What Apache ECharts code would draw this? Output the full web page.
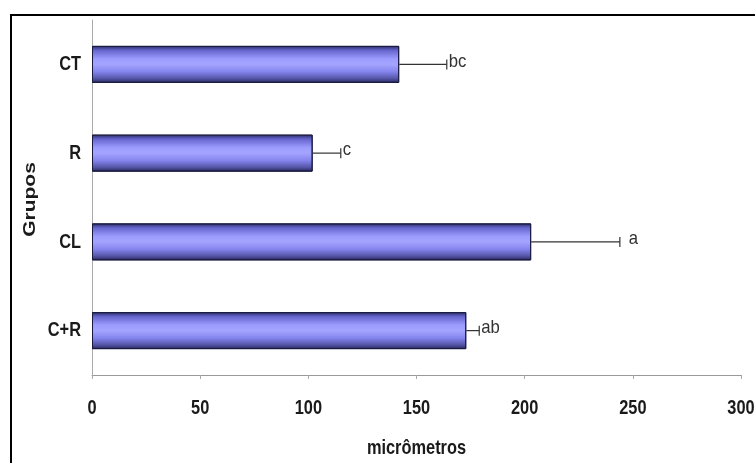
<!DOCTYPE html>
<html>
<head>
<meta charset="utf-8">
<script src="https://cdn.jsdelivr.net/npm/echarts@6/dist/echarts.min.js"></script>
<style>
html,body{margin:0;padding:0;background:#fff;}
#chart{width:755px;height:463px;}
</style>
</head>
<body>
<div id="chart"></div>
<script>
// Group names (top to bottom)
const groups = ['CT', 'R', 'CL', 'C+R'];
// Mean thickness per group, micrometres
const means = [142, 102, 203, 173];
// Error (upper whisker) per group
const errors = [22, 13, 41, 6];
// Significance letters
const letters = ['bc', 'c', 'a', 'ab'];
// X axis ticks
const xTicks = [0, 50, 100, 150, 200, 250, 300];

const xTitle = 'micrômetros';
const yTitle = 'Grupos';

// Condensed bold lettering: Liberation Sans squeezed horizontally
const BOLD = 'bold 21px "Liberation Sans", Arial, sans-serif';
const NARROW = 0.78;

const chart = echarts.init(document.getElementById('chart'), null, {renderer: 'canvas'});

const barFill = new echarts.graphic.LinearGradient(0, 0, 0, 1, [
  {offset: 0, color: '#2a2a66'},
  {offset: 0.12, color: '#6464cc'},
  {offset: 0.35, color: '#9c9cff'},
  {offset: 0.5, color: '#a4a4ff'},
  {offset: 0.7, color: '#8484ee'},
  {offset: 0.88, color: '#5656a8'},
  {offset: 1, color: '#26265a'}
]);

const errData = groups.map((g, i) => [means[i], i, errors[i]]);

chart.setOption({
  animation: false,
  backgroundColor: '#ffffff',
  grid: {left: 92, right: 14, top: 20, bottom: 88, containLabel: false},
  xAxis: {
    type: 'value',
    min: xTicks[0],
    max: xTicks[xTicks.length - 1],
    interval: 50,
    axisLine: {show: true, lineStyle: {color: '#999', width: 1}},
    axisTick: {show: true, length: 4, lineStyle: {color: '#aaa'}},
    axisLabel: {show: false},
    splitLine: {show: false}
  },
  yAxis: {
    type: 'category',
    data: groups,
    inverse: true,
    axisLine: {show: true, lineStyle: {color: '#aaa', width: 1}},
    axisTick: {show: false},
    axisLabel: {show: false}
  },
  series: [{
    type: 'bar',
    data: means,
    barWidth: 37,
    itemStyle: {color: barFill, borderColor: '#1a1a40', borderWidth: 1}
  }, {
    type: 'custom',
    data: errData,
    encode: {x: 0, y: 1},
    z: 5,
    renderItem: function (params, api) {
      const m = api.value(0);
      const idx = api.value(1);
      const e = api.value(2);
      const lab = letters[params.dataIndex];
      const p0 = api.coord([m, idx]);
      const p1 = api.coord([m + e, idx]);
      const style = {stroke: '#333', lineWidth: 1.2};
      return {
        type: 'group',
        children: [
          {type: 'line', shape: {x1: p0[0], y1: p0[1], x2: p1[0], y2: p1[1]}, style: style},
          {type: 'line', shape: {x1: p1[0], y1: p1[1] - 5, x2: p1[0], y2: p1[1] + 5}, style: style},
          {type: 'text', x: p1[0] + (lab === 'a' ? 9 : 2), y: p1[1] - 3, scaleX: 0.88,
            style: {text: lab, fill: '#333', font: '19px "Liberation Sans", Arial, sans-serif',
              align: 'left', verticalAlign: 'middle'}}
        ]
      };
    }
  }]
});

// Axis lettering placed from the axes' own scales
const gfx = [{
  type: 'rect',
  shape: {x: 11, y: 15, width: 760, height: 470},
  style: {fill: 'none', stroke: '#000', lineWidth: 2},
  z: 100
}];

xTicks.forEach(function (v) {
  const px = chart.convertToPixel({xAxisIndex: 0}, v);
  gfx.push({type: 'text', x: px, y: 408, scaleX: NARROW,
    style: {text: String(v), font: BOLD, fill: '#1a1a1a', align: 'center', verticalAlign: 'middle'}});
});

groups.forEach(function (g, i) {
  const py = chart.convertToPixel({yAxisIndex: 0}, i);
  gfx.push({type: 'text', x: 81, y: py, scaleX: NARROW,
    style: {text: g, font: BOLD, fill: '#1a1a1a', align: 'right', verticalAlign: 'middle'}});
});

const gx0 = chart.convertToPixel({xAxisIndex: 0}, xTicks[0]);
const gx1 = chart.convertToPixel({xAxisIndex: 0}, xTicks[xTicks.length - 1]);
gfx.push({type: 'text', x: (gx0 + gx1) / 2, y: 448, scaleX: NARROW,
  style: {text: xTitle, font: BOLD, fill: '#1a1a1a', align: 'center', verticalAlign: 'middle'}});

const gyTop = chart.convertToPixel({yAxisIndex: 0}, 0);
const gyBot = chart.convertToPixel({yAxisIndex: 0}, groups.length - 1);
gfx.push({type: 'text', x: 30, y: (gyTop + gyBot) / 2 + 2, rotation: Math.PI / 2, scaleY: NARROW,
  style: {text: yTitle, font: BOLD, fill: '#1a1a1a', align: 'center', verticalAlign: 'middle'}});

chart.setOption({graphic: gfx});
</script>
</body>
</html>
